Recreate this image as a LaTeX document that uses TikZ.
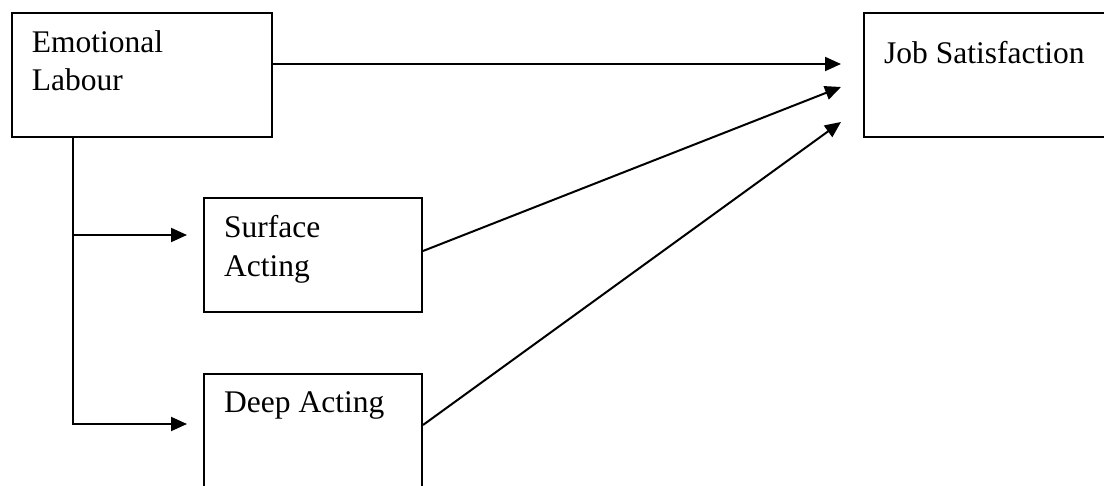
\documentclass[tikz,border=0pt]{standalone}
\usepackage{fontspec}
\setmainfont{Liberation Serif}
\usetikzlibrary{arrows.meta}
\tikzset{
  box/.style={draw, line width=2pt, anchor=north west, inner sep=0pt},
  lbl/.style={anchor=north west, inner sep=0pt, align=left,
    font=\fontsize{31.5}{38.3}\selectfont},
  link/.style={line width=2pt, -{Triangle[length=16pt,width=14pt]}}
}
\begin{document}
\begin{tikzpicture}[x=1pt, y=-1pt]
      \useasboundingbox (0,0) rectangle (1104,486);
      \clip (0,0) rectangle (1104,486);
      \draw
        (10.7,12) node[box, minimum width=260pt, minimum height=124pt] (el){}
        (203,197) node[box, minimum width=218pt, minimum height=114pt] (sa){}
        (203,373) node[box, minimum width=218pt, minimum height=114pt] (da){}
        (863,12) node[box, minimum width=260pt, minimum height=124pt] (js){};
      \node[lbl] (elt) at ([shift={(21pt,-18.5pt)}]el.north west) {Emotional\\Labour};
      \node[lbl] (sat) at ([shift={(21pt,-18.5pt)}]sa.north west) {Surface\\Acting};
      \node[lbl] (dat) at ([shift={(21pt,-18.5pt)}]da.north west) {Deep Acting};
      \node[lbl] (jst) at ([shift={(21pt,-29.5pt)}]js.north west) {Job Satisfaction};
      \coordinate (t1) at (841,64);
      \coordinate (t2) at (841,87);
      \coordinate (t3) at (841,122);
      \coordinate (b1) at (73,235);
      \coordinate (b2) at (73,424);
      \coordinate (t4) at (187,235);
      \coordinate (t5) at (187,424);
      \begin{scope}[link]
        \draw (el.east |- t1) to (t1);
        \draw ([yshift=4pt]sa.east) to (t2);
        \draw ([yshift=6pt]da.east) to (t3);
        \draw (b1 |- el.south) -- (b2) -- (t5);
        \draw (b1) to (t4);
      \end{scope}
    \end{tikzpicture}
\end{document}
